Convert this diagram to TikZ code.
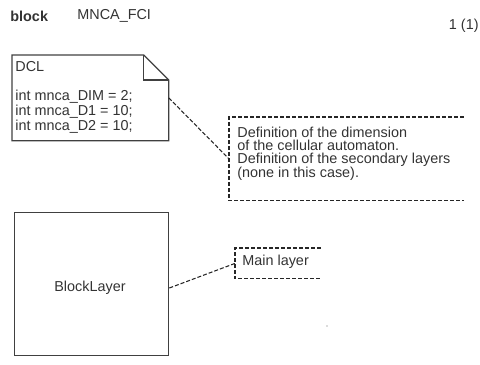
\documentclass[tikz,border=0pt]{standalone}
\usepackage{fontspec}
\setmainfont{Liberation Sans}
\usetikzlibrary{positioning}

\begin{document}
\begin{tikzpicture}[x=0.75pt,y=-0.75pt,semithick]
    \tikzstyle{every node}=[font=\fontsize{10.8pt}{9.5pt}\selectfont,text=black!80,inner sep=0pt]
    \tikzstyle{frame}=[draw=black!75,line width=1pt]
    \tikzstyle{remark}=[draw=black!85,line width=0.8pt,dash pattern=on 3pt off 1.5pt]
    \useasboundingbox (0,0) rectangle (480,365);

    \node[anchor=west,font=\fontsize{10.8pt}{9.5pt}\selectfont\bfseries] (kind) at (10,16) {block};
    \node[anchor=west] (name) at (77,16) {MNCA\_FCI};
    \node[anchor=east] (page) at (479,26) {1 (1)};

    % declarations note
    \node[minimum width=117pt,minimum height=63.75pt,anchor=north west] (dcl) at (12,55) {};
    \node[anchor=north west,align=left,font=\fontsize{10.8pt}{8.1pt}\selectfont] (dcltext) at (15,61)
        {DCL\\[14pt]int mnca\_DIM = 2;\\int mnca\_D1 = 10;\\int mnca\_D2 = 10;};
    \draw[frame] (dcl.north west) -- ([xshift=-18.75pt]dcl.north east)
        -- ([yshift=-18.75pt]dcl.north east) -- (dcl.south east) -- (dcl.south west) -- cycle;
    \draw[frame] ([xshift=-18.75pt]dcl.north east) |- ([yshift=-18.75pt]dcl.north east);

    % comment on the declarations
    \node[minimum width=175.5pt,minimum height=62.25pt,anchor=north west] (cmtdcl) at (229,117) {};
    \node[anchor=north west,align=left] (cmtdcltext) at (237,127)
        {Definition of the dimension\\of the cellular automaton.\\Definition of the secondary layers\\(none in this case).};
    \draw[remark] (cmtdcl.north east) -- (cmtdcl.north west) -- (cmtdcl.south west) -- (cmtdcl.south east);

    % block
    \node[frame,minimum width=115.5pt,minimum height=107.25pt,anchor=north west] (blocklayer) at (14,212) {};
    \node (blocktext) at (90,288) {BlockLayer};

    % comment on the block
    \node[minimum width=63.75pt,minimum height=22.5pt,anchor=north west] (cmtmain) at (235,248) {};
    \node[anchor=west] (cmtmaintext) at (242,262) {Main layer};
    \draw[remark] (cmtmain.north east) -- (cmtmain.north west) -- (cmtmain.south west) -- (cmtmain.south east);

    \draw[remark] (dcl.east) -- (cmtdcl.west);
    \draw[remark] (blocklayer.east |- blocktext) -- (cmtmain.west);

    \fill[black!60] (327,326) circle (0.5pt);
\end{tikzpicture}
\end{document}
